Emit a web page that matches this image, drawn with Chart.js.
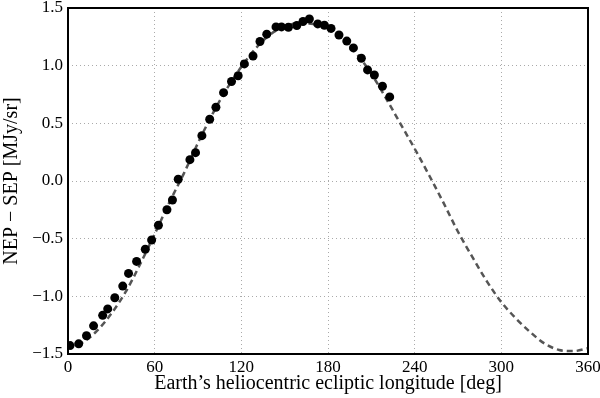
<!DOCTYPE html>
<html>
<head>
<meta charset="utf-8">
<script src="https://cdn.jsdelivr.net/npm/chart.js@4/dist/chart.umd.min.js"></script>
<style>
    html, body { margin: 0; padding: 0; background: #fff; }
</style>
</head>
<body>
<canvas id="nep-sep" width="600" height="398"></canvas>
<script>
// measured points
var obsLon = [1.4, 7.4, 12.8, 17.7, 24.0, 27.5, 32.4, 37.9, 41.9, 47.5,
    53.5, 57.9, 62.6, 68.5, 72.3, 76.3, 84.4, 88.3, 92.7, 98.1,
    102.4, 107.7, 113.2, 117.8, 122.1, 128.1, 132.9, 137.6, 144.0, 147.8,
    152.6, 158.4, 162.7, 167.1, 172.9, 177.5, 182.1, 187.6, 193.0, 197.6,
    203.1, 207.4, 212.1, 217.7, 222.7];
var obsVal = [-1.427, -1.412, -1.342, -1.256, -1.165, -1.109, -1.012, -0.911, -0.801, -0.697,
    -0.592, -0.512, -0.384, -0.249, -0.165, 0.015, 0.185, 0.246, 0.393, 0.535,
    0.639, 0.766, 0.863, 0.913, 1.015, 1.084, 1.210, 1.273, 1.336, 1.336,
    1.333, 1.348, 1.383, 1.405, 1.362, 1.350, 1.323, 1.266, 1.213, 1.154,
    1.064, 0.963, 0.919, 0.822, 0.729];

// model curve (dashed)
var modelLon = [0, 10, 20, 30, 40, 50, 60, 70, 80, 90, 100, 110, 120, 130, 140, 150, 160, 170, 180,
    190, 200, 210, 220, 230, 240, 250, 260, 270, 280, 290, 300, 310, 320, 330, 340, 350, 360];
var modelVal = [-1.44, -1.40, -1.30, -1.15, -0.96, -0.72, -0.46, -0.19, 0.06, 0.33, 0.58, 0.80, 0.99,
    1.15, 1.27, 1.34, 1.37, 1.36, 1.32, 1.23, 1.10, 0.93, 0.72, 0.50, 0.28, 0.05, -0.19, -0.44,
    -0.66, -0.87, -1.05, -1.19, -1.31, -1.41, -1.465, -1.475, -1.45];

var xTicks = [0, 60, 120, 180, 240, 300, 360];
var yTicks = [-1.5, -1.0, -0.5, 0.0, 0.5, 1.0, 1.5];

var serif = '"Liberation Serif", "DejaVu Serif", serif';

var obsPts = [];
obsLon.forEach(function (lon, i) { obsPts.push({x: lon, y: obsVal[i]}); });
var modelPts = [];
modelLon.forEach(function (lon, i) { modelPts.push({x: lon, y: modelVal[i]}); });

// black frame around the plot area
var frame = {
    id: 'frame',
    afterDraw: function (chart) {
        var a = chart.chartArea, ctx = chart.ctx;
        ctx.save();
        ctx.strokeStyle = '#000';
        ctx.lineWidth = 2;
        ctx.strokeRect(a.left, a.top, a.right - a.left, a.bottom - a.top);
        ctx.restore();
    }
};

new Chart(document.getElementById('nep-sep').getContext('2d'), {
    type: 'scatter',
    data: {
        datasets: [
            {
                label: 'model',
                data: modelPts,
                showLine: true,
                cubicInterpolationMode: 'monotone',
                borderColor: '#555555',
                borderWidth: 2.5,
                borderDash: [6, 4],
                pointRadius: 0,
                order: 2
            },
            {
                label: 'data',
                data: obsPts,
                backgroundColor: '#000',
                borderColor: '#000',
                pointRadius: 4.5,
                borderWidth: 0,
                order: 1
            }
        ]
    },
    options: {
        responsive: false,
        animation: false,
        maintainAspectRatio: false,
        layout: { padding: { top: 8, right: 12, left: 0, bottom: 0 } },
        scales: {
            x: {
                type: 'linear',
                min: 0,
                max: 360,
                afterBuildTicks: function (s) { s.ticks = xTicks.map(function (v) { return {value: v}; }); },
                afterFit: function (s) { s.height = 44; s.paddingLeft = 0; s.paddingRight = 0; },
                grid: { color: '#aaa', drawTicks: false, lineWidth: 1 },
                border: { display: false, dash: [1, 3] },
                ticks: {
                    color: '#000',
                    padding: 3,
                    font: { family: serif, size: 17 },
                    callback: function (v) { return String(v); }
                },
                title: {
                    display: true,
                    text: 'Earth\u2019s heliocentric ecliptic longitude [deg]',
                    color: '#000',
                    font: { family: serif, size: 20 },
                    padding: { top: 0, bottom: 2 }
                }
            },
            y: {
                min: -1.5,
                max: 1.5,
                afterBuildTicks: function (s) { s.ticks = yTicks.map(function (v) { return {value: v}; }); },
                afterFit: function (s) { s.width = 68; s.paddingTop = 0; s.paddingBottom = 0; },
                grid: { color: '#aaa', drawTicks: false, lineWidth: 1 },
                border: { display: false, dash: [1, 3] },
                ticks: {
                    color: '#000',
                    padding: 5,
                    font: { family: serif, size: 17 },
                    callback: function (v) { return (v < 0 ? '\u2212' : '') + Math.abs(v).toFixed(1); }
                },
                title: {
                    display: true,
                    text: 'NEP \u2212 SEP [MJy/sr]',
                    color: '#000',
                    font: { family: serif, size: 20 },
                    padding: { top: 0, bottom: 0 }
                }
            }
        },
        plugins: {
            legend: { display: false },
            tooltip: { enabled: false }
        }
    },
    plugins: [frame]
});
</script>
</body>
</html>
